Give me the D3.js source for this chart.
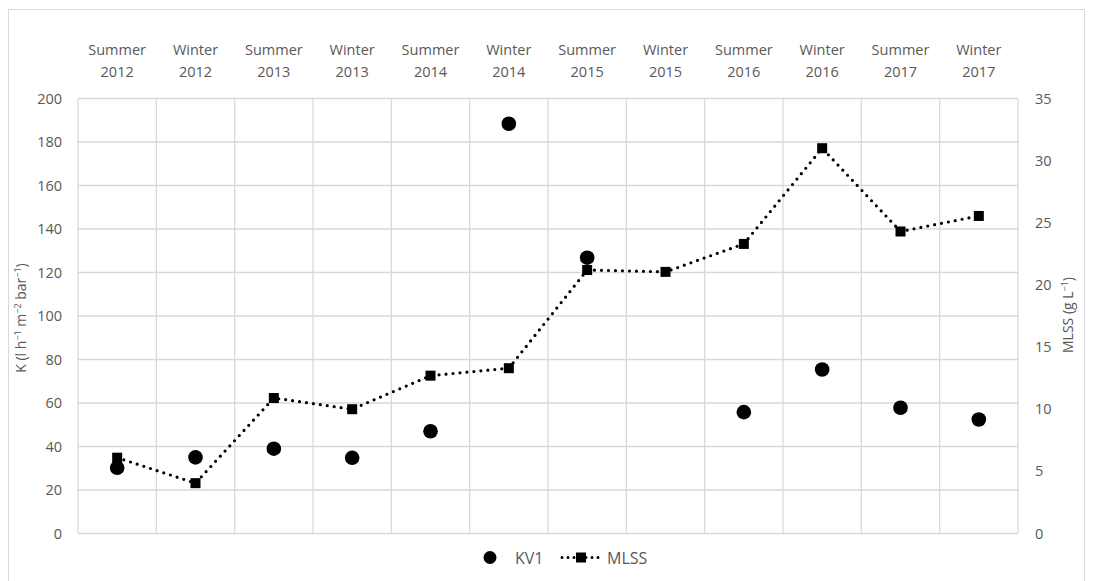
<!DOCTYPE html>
<html><head><meta charset="utf-8">
<script src="https://cdn.jsdelivr.net/npm/d3@7"></script>
<style>body{margin:0;background:#fff}text{font-family:"Open Sans",sans-serif;fill:#595959}</style>
</head><body><svg id="c" width="1094" height="581"></svg>
<script>
const seasons = ["Summer","Winter","Summer","Winter","Summer","Winter","Summer","Winter","Summer","Winter","Summer","Winter"];
const years = ["2012","2012","2013","2013","2014","2014","2015","2015","2016","2016","2017","2017"];
const categories = seasons.map((s,i)=>s+" "+years[i]);
const kv1 = [30.2, 35, 39, 34.8, 47, 188.4, 126.8, null, 55.8, 75.4, 57.8, 52.4];
const mlss = [6.1, 4.05, 10.9, 10.0, 12.7, 13.3, 21.2, 21.05, 23.3, 31.0, 24.3, 25.55];
const leftTicks = [0,20,40,60,80,100,120,140,160,180,200];
const rightTicks = [0,5,10,15,20,25,30,35];

const svg = d3.select("#c");
const L=78, R=1018, T=98.5, B=533.5;
svg.append("rect").attr("x",8.5).attr("y",9.5).attr("width",1076).attr("height",580).attr("fill","none").attr("stroke","#d9d9d9");

const x = d3.scaleBand().domain(categories).range([L,R]).padding(0);
const yL = d3.scaleLinear().domain([0,200]).range([B,T]);
const yR = d3.scaleLinear().domain([0,35]).range([B,T]);

// grid
const g = svg.append("g");
g.selectAll("line.h").data(leftTicks).join("line")
 .attr("x1",L).attr("x2",R).attr("y1",d=>yL(d)).attr("y2",d=>yL(d))
 .attr("stroke","#d9d9d9").attr("stroke-width",1.3);
const bounds = categories.map(c=>x(c)).concat([R]);
g.selectAll("line.v").data(bounds).join("line")
 .attr("x1",d=>d).attr("x2",d=>d).attr("y1",T).attr("y2",B)
 .attr("stroke","#d9d9d9").attr("stroke-width",1.3);

// axes
const axL = svg.append("g").attr("transform",`translate(${L},0)`)
 .call(d3.axisLeft(yL).tickValues(leftTicks).tickSize(0).tickPadding(16));
axL.select(".domain").remove();
axL.selectAll("text").style("font-size","14.5px").attr("fill","#595959");
const axR = svg.append("g").attr("transform",`translate(${R},0)`)
 .call(d3.axisRight(yR).tickValues(rightTicks).tickSize(0).tickPadding(17));
axR.select(".domain").remove();
axR.selectAll("text").style("font-size","14.5px").attr("fill","#595959");

// top category labels
const cl = svg.append("g");
categories.forEach((c,i)=>{
  const t = cl.append("text").attr("x",x(c)+x.bandwidth()/2).attr("text-anchor","middle").style("font-size","14.5px");
  t.append("tspan").attr("x",x(c)+x.bandwidth()/2).attr("y",55).text(seasons[i]);
  t.append("tspan").attr("x",x(c)+x.bandwidth()/2).attr("y",77).text(years[i]);
});

// axis titles
const lt = svg.append("text").attr("transform","translate(26,318) rotate(-90)").attr("text-anchor","middle").style("font-size","14px");
lt.append("tspan").text("K (l h");
lt.append("tspan").attr("dy",-5).style("font-size","9px").text("−1");
lt.append("tspan").attr("dy",5).text(" m");
lt.append("tspan").attr("dy",-5).style("font-size","9px").text("−2");
lt.append("tspan").attr("dy",5).text(" bar");
lt.append("tspan").attr("dy",-5).style("font-size","9px").text("−1");
lt.append("tspan").attr("dy",5).text(")");
const rt = svg.append("text").attr("transform","translate(1073,315) rotate(-90)").attr("text-anchor","middle").style("font-size","14px");
rt.append("tspan").text("MLSS (g L");
rt.append("tspan").attr("dy",-5).style("font-size","9px").text("−1");
rt.append("tspan").attr("dy",5).text(")");

// MLSS line
const cx = c=>x(c)+x.bandwidth()/2;
const line = d3.line().x((d,i)=>cx(categories[i])).y(d=>yR(d));
svg.append("path").datum(mlss).attr("d",line).attr("fill","none").attr("stroke","#000")
 .attr("stroke-width",3.2).attr("stroke-dasharray","0 7").attr("stroke-linecap","round");
svg.selectAll("rect.m").data(mlss).join("rect")
 .attr("x",(d,i)=>cx(categories[i])-5).attr("y",d=>yR(d)-5).attr("width",10).attr("height",10).attr("fill","#000");

// KV1 points
svg.selectAll("circle.k").data(kv1.map((v,i)=>({v,c:categories[i]})).filter(d=>d.v!=null)).join("circle")
 .attr("cx",d=>cx(d.c)).attr("cy",d=>yL(d.v)).attr("r",7.3).attr("fill","#000");

// legend
const lg = svg.append("g");
lg.append("circle").attr("cx",490).attr("cy",557.5).attr("r",6.5).attr("fill","#000");
lg.append("text").attr("x",515).attr("y",563.5).style("font-size","16px").text("KV1");
lg.append("line").attr("x1",562).attr("x2",600).attr("y1",557.5).attr("y2",557.5).attr("stroke","#000")
 .attr("stroke-width",3).attr("stroke-dasharray","0 6").attr("stroke-linecap","round");
lg.append("rect").attr("x",576).attr("y",552.5).attr("width",10).attr("height",10).attr("fill","#000");
lg.append("text").attr("x",607).attr("y",563.5).style("font-size","16px").text("MLSS");
</script></body></html>
